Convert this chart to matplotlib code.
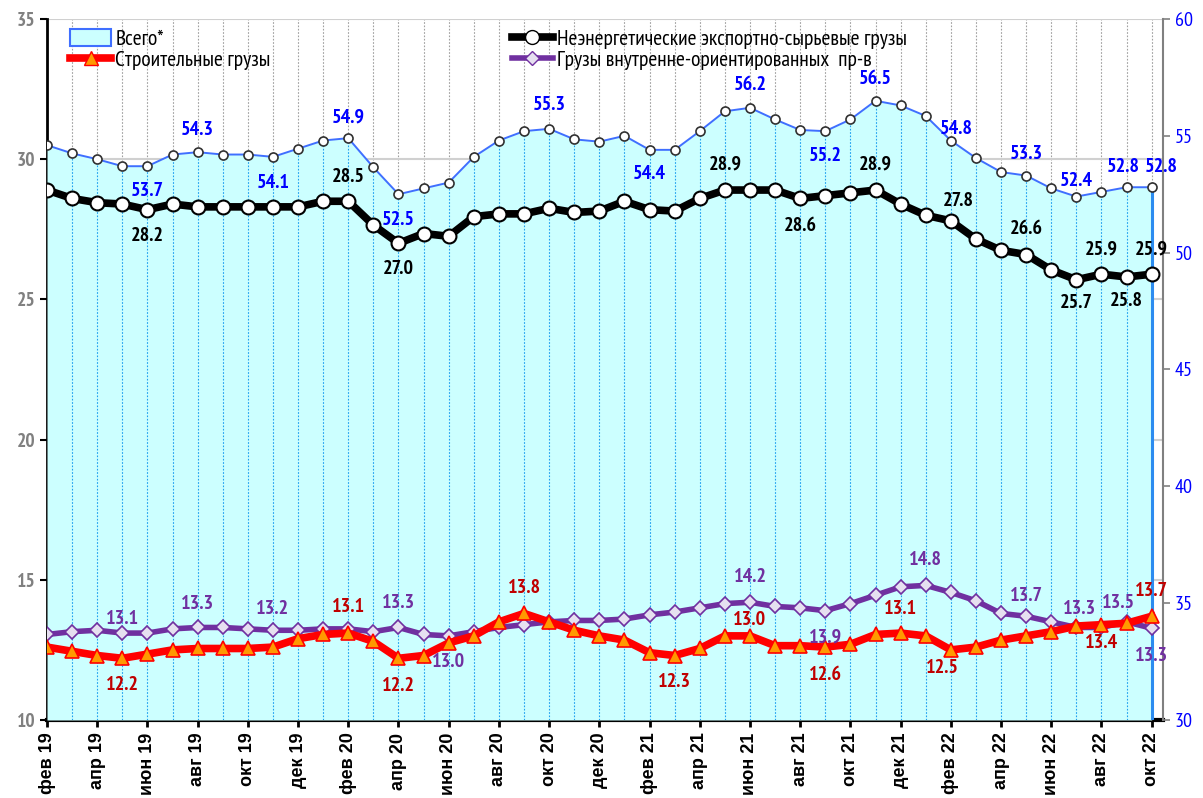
import matplotlib
matplotlib.use('Agg')
import matplotlib.pyplot as plt
from matplotlib.patches import Patch
from matplotlib.lines import Line2D
import matplotlib.font_manager as fm

names = {f.name for f in fm.fontManager.ttflist}
NARROW = next((n for n in ['Liberation Sans Narrow', 'Arial Narrow', 'PT Sans Narrow', 'Roboto Condensed',
                           'Fira Sans Condensed', 'Liberation Sans'] if n in names), 'DejaVu Sans')
WIDE = 'Liberation Sans' if 'Liberation Sans' in names else 'DejaVu Sans'
plt.rcParams['font.family'] = [NARROW, 'DejaVu Sans']

categories = ['фев 19','мар 19','апр 19','май 19','июн 19','июл 19','авг 19','сен 19','окт 19','ноя 19','дек 19',
              'янв 20','фев 20','мар 20','апр 20','май 20','июн 20','июл 20','авг 20','сен 20','окт 20','ноя 20','дек 20',
              'янв 21','фев 21','мар 21','апр 21','май 21','июн 21','июл 21','авг 21','сен 21','окт 21','ноя 21','дек 21',
              'янв 22','фев 22','мар 22','апр 22','май 22','июн 22','июл 22','авг 22','сен 22','окт 22']

total = [54.6, 54.25, 54.0, 53.7, 53.7, 54.2, 54.3, 54.2, 54.2, 54.1, 54.45, 54.8, 54.9, 53.65, 52.5,
         52.75, 53.0, 54.1, 54.8, 55.2, 55.3, 54.85, 54.75, 55.0, 54.4, 54.4, 55.2, 56.05, 56.2, 55.7,
         55.25, 55.2, 55.7, 56.5, 56.3, 55.85, 54.8, 54.05, 53.45, 53.3, 52.75, 52.4, 52.6, 52.8, 52.8]
nonenergy = [28.9, 28.6, 28.45, 28.4, 28.2, 28.4, 28.3, 28.3, 28.3, 28.3, 28.3, 28.5, 28.5, 27.65, 27.0,
             27.35, 27.25, 27.95, 28.05, 28.05, 28.25, 28.1, 28.15, 28.5, 28.2, 28.15, 28.6, 28.9, 28.9, 28.9,
             28.6, 28.7, 28.8, 28.9, 28.4, 28.0, 27.8, 27.15, 26.75, 26.6, 26.05, 25.7, 25.9, 25.8, 25.9]
construction = [12.6, 12.45, 12.3, 12.2, 12.35, 12.5, 12.55, 12.55, 12.55, 12.6, 12.9, 13.05, 13.1, 12.8, 12.2,
                12.3, 12.75, 13.0, 13.5, 13.8, 13.5, 13.2, 13.0, 12.85, 12.4, 12.3, 12.55, 13.0, 13.0, 12.65,
                12.65, 12.6, 12.7, 13.05, 13.1, 13.0, 12.5, 12.6, 12.85, 13.0, 13.15, 13.35, 13.4, 13.45, 13.7]
domestic = [13.05, 13.15, 13.2, 13.1, 13.1, 13.25, 13.3, 13.3, 13.25, 13.2, 13.2, 13.25, 13.25, 13.15, 13.3,
            13.05, 13.0, 13.15, 13.3, 13.4, 13.5, 13.55, 13.55, 13.6, 13.75, 13.85, 14.0, 14.15, 14.2, 14.05,
            14.0, 13.9, 14.15, 14.45, 14.75, 14.8, 14.55, 14.25, 13.8, 13.7, 13.5, 13.3, 13.3, 13.5, 13.27]

series_names = ['Всего*', 'Строительные грузы', 'Неэнергетические экспортно-сырьевые грузы',
                'Грузы внутренне-ориентированных  пр-в']

# data labels: (index, dx px, dy px)
total_lbl = [(4, 0, -25), (6, 0, 22), (9, 0, -26), (12, 0, 21), (14, 0, -26), (20, 0, 24), (24, 0, -24),
             (28, 0, 23), (31, 0, -25), (33, 0, 22), (36, 6, 12), (39, 0, 22), (41, 0, 16), (43, -3, 20), (44, 10, 20)]
nonen_lbl = [(4, 0, -26), (12, 0, 24), (14, 0, -26), (27, 0, 25), (30, 0, -28), (33, 0, 25), (36, 7, 20),
             (39, 0, 26), (41, 0, -23), (42, 0, 25), (43, 0, -24), (44, 0, 25)]
constr_lbl = [(3, 0, -27), (12, 0, 26), (14, 0, -28), (19, 0, 25), (25, 0, -26), (28, 0, 16), (31, 0, -28),
              (34, 0, 24), (36, -8, -18), (42, 0, -18), (44, 0, 25)]
domest_lbl = [(3, 0, 14), (6, 0, 23), (9, 0, 21), (14, 0, 24), (16, 0, -26), (28, 0, 25), (31, 0, -27),
              (35, 0, 25), (39, 0, 20), (41, 3, 18), (43, -8, 19), (44, 0, -28)]

x = list(range(len(categories)))

fig = plt.figure(figsize=(12.03, 7.98), dpi=100)
rect = [47/1203, 78/798, (1163-47)/1203, (720-19)/798]
ax = fig.add_axes(rect)           # left axis, grid
ax2 = ax.twinx()                  # right axis, area
ax3 = ax.twinx()                  # lines on left scale
ax.set_zorder(0); ax2.set_zorder(1); ax3.set_zorder(2)
for a in (ax2, ax3):
    a.patch.set_visible(False)

xmax = len(categories) - 1 + 0.45
ax.set_xlim(0, xmax)
ax.set_ylim(10, 35)
ax3.set_ylim(10, 35)
ax2.set_ylim(30, 60)

# grid on ax
ax.set_yticks([10, 15, 20, 25, 30, 35])
ax.yaxis.grid(True, color='#D0D0D0', lw=1.5)
for xi in x:
    ax.axvline(xi, color='#A0A0A0', lw=0.8, ls=(0, (1.5, 1.5)), zorder=0.5)
ax.set_axisbelow(True)

# area
ax2.fill_between(x, 30, total, color='#CCFFFF', lw=0, zorder=1)
ax2.vlines(x[1:-1], 30, total[1:-1], colors='#1EA0F0', lw=0.8, linestyles=(0, (1.5, 1.5)), zorder=2)
ax2.vlines([x[-1]], 30, [total[-1]], colors='#2C8CF0', lw=2.2, zorder=3)
ax2.plot(x, total, color='#3F6FFF', lw=1.4, marker='o', ms=6.5, mfc='white', mec='#303030', mew=1.2, zorder=4)

# lines
ax3.plot(x, nonenergy, color='black', lw=5.5, marker='o', ms=10, mfc='white', mec='black', mew=1.5, zorder=5)
ax3.plot(x, construction, color='#FF0000', lw=5.5, marker='^', ms=10, mfc='#FF9900', mec='#FF0000', mew=1.2, zorder=4)
ax3.plot(x, domestic, color='#7030A0', lw=4, marker='D', ms=7.5, mfc='#E6E0F0', mec='#7030A0', mew=1.2, zorder=3)

lblfont = dict(fontsize=14.5, fontweight='bold', ha='center', va='center')
for i, dx, dy in total_lbl:
    ax2.annotate(f'{total[i]:.1f}', (x[i], total[i]), xytext=(dx, dy), textcoords='offset pixels',
                 color='#0000FF', zorder=10, **lblfont)
for i, dx, dy in nonen_lbl:
    ax3.annotate(f'{nonenergy[i]:.1f}', (x[i], nonenergy[i]), xytext=(dx, dy), textcoords='offset pixels',
                 color='black', zorder=10, **lblfont)
for i, dx, dy in constr_lbl:
    ax3.annotate(f'{construction[i]:.1f}', (x[i], construction[i]), xytext=(dx, dy), textcoords='offset pixels',
                 color='#C00000', zorder=10, **lblfont)
for i, dx, dy in domest_lbl:
    ax3.annotate(f'{domestic[i]:.1f}', (x[i], domestic[i]), xytext=(dx, dy), textcoords='offset pixels',
                 color='#7030A0', zorder=10, **lblfont)

# axes styling
ax.set_xticks(x[::2])
ax.set_xticklabels(categories[::2], rotation=90, fontsize=13, fontweight='bold',
                   family=[WIDE, 'DejaVu Sans'])
ax.tick_params(axis='x', length=5, width=2, color='black', pad=4)
ax.tick_params(axis='y', length=5, width=1.5, color='black', labelcolor='#808080', labelsize=14)
for t in ax.get_yticklabels():
    t.set_fontweight('bold')
ax2.set_yticks([30, 35, 40, 45, 50, 55, 60])
ax2.tick_params(axis='y', length=5, width=1.2, color='#808080', labelcolor='#0000FF', labelsize=14.5)
ax3.set_yticks([])

for a in (ax, ax2, ax3):
    for s in a.spines.values():
        s.set_visible(False)
ax.spines['left'].set_visible(True); ax.spines['left'].set_linewidth(2); ax.spines['left'].set_color('black')
ax.spines['bottom'].set_visible(True); ax.spines['bottom'].set_linewidth(3); ax.spines['bottom'].set_color('black')
ax2.spines['right'].set_visible(True); ax2.spines['right'].set_color('#808080'); ax2.spines['right'].set_linewidth(1.5)

# legends
h_total = Patch(facecolor='#CCFFFF', edgecolor='#3F6FFF', lw=1.5)
h_constr = Line2D([], [], color='#FF0000', lw=5.5, marker='^', ms=10, mfc='#FF9900', mec='#FF0000')
h_nonen = Line2D([], [], color='black', lw=5.5, marker='o', ms=10, mfc='white', mec='black')
h_dom = Line2D([], [], color='#7030A0', lw=4, marker='D', ms=7.5, mfc='#E6E0F0', mec='#7030A0')
legkw = dict(frameon=False, fontsize=15.5, handlelength=1.9, handletextpad=0.2, labelspacing=0.08,
             borderaxespad=0.05, handleheight=0.85)
leg1 = ax3.legend([h_total, h_constr], series_names[:2], loc='upper left', bbox_to_anchor=(0.012, 1.0), **legkw)
ax3.add_artist(leg1)
ax3.legend([h_nonen, h_dom], series_names[2:], loc='upper left', bbox_to_anchor=(0.408, 1.0), **legkw)

fig.savefig('out.png', dpi=100)
